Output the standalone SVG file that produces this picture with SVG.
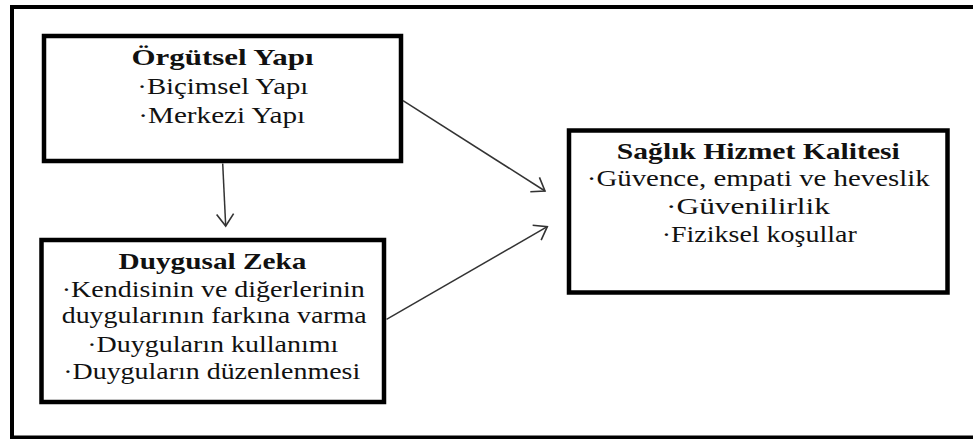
<svg xmlns="http://www.w3.org/2000/svg" width="973" height="439" viewBox="0 0 973 439">
<style>
.frame{fill:none;stroke:#000;stroke-width:4}
.box{fill:#fff;stroke:#000;stroke-width:4.5}
.t{font-family:"Liberation Serif","Times New Roman",serif;font-size:22.5px;fill:#111;text-anchor:middle}
.b{font-weight:bold;font-size:24px}
.conn line{stroke:#333;stroke-width:1.5;fill:none}
</style>
<defs>
<marker id="arr" markerUnits="userSpaceOnUse" markerWidth="20" markerHeight="20" viewBox="-14 -10 16 20" refX="0" refY="0" orient="auto">
<path d="M-12,-8.5 L0,0 L-12,8.5" fill="none" stroke="#333" stroke-width="1.6"/>
</marker>
</defs>
<rect width="973" height="439" fill="#fff"/>
<rect class="frame" x="12" y="7" width="975" height="430.5"/>
<g id="orgutsel">
<rect class="box" x="44" y="36" width="357" height="125"/>
<text class="t b" transform="translate(222.5,65) scale(1.25,1)" textLength="145.6" lengthAdjust="spacingAndGlyphs">Örgütsel Yapı</text>
<text class="t" transform="translate(222.8,94) scale(1.25,1)" textLength="136.8" lengthAdjust="spacingAndGlyphs">·Biçimsel Yapı</text>
<text class="t" transform="translate(221.7,122.5) scale(1.25,1)" textLength="133.6" lengthAdjust="spacingAndGlyphs">·Merkezi Yapı</text>
</g>
<g id="duygusal">
<rect class="box" x="41.5" y="240" width="342.5" height="162"/>
<text class="t b" transform="translate(212.5,269) scale(1.25,1)" textLength="150.4" lengthAdjust="spacingAndGlyphs">Duygusal Zeka</text>
<text class="t" transform="translate(213.3,296.5) scale(1.25,1)" textLength="242.4" lengthAdjust="spacingAndGlyphs">·Kendisinin ve diğerlerinin</text>
<text class="t" transform="translate(214.2,322.5) scale(1.25,1)" textLength="244" lengthAdjust="spacingAndGlyphs">duygularının farkına varma</text>
<text class="t" transform="translate(212.8,351.5) scale(1.25,1)" textLength="200.8" lengthAdjust="spacingAndGlyphs">·Duyguların kullanımı</text>
<text class="t" transform="translate(211.7,379) scale(1.25,1)" textLength="237.6" lengthAdjust="spacingAndGlyphs">·Duyguların düzenlenmesi</text>
</g>
<g id="saglik">
<rect class="box" x="569" y="130.5" width="378.5" height="162"/>
<text class="t b" transform="translate(758.3,159) scale(1.25,1)" textLength="226.4" lengthAdjust="spacingAndGlyphs">Sağlık Hizmet Kalitesi</text>
<text class="t" transform="translate(758.3,186) scale(1.25,1)" textLength="274.4" lengthAdjust="spacingAndGlyphs">·Güvence, empati ve heveslik</text>
<text class="t" transform="translate(748,214) scale(1.25,1)" textLength="131.2" lengthAdjust="spacingAndGlyphs">·Güvenilirlik</text>
<text class="t" transform="translate(759.2,241.5) scale(1.25,1)" textLength="156" lengthAdjust="spacingAndGlyphs">·Fiziksel koşullar</text>
</g>
<g id="connectors" class="conn">
<line x1="222.7" y1="163.5" x2="225.7" y2="226" marker-end="url(#arr)"/>
<line x1="403" y1="100.7" x2="545" y2="191" marker-end="url(#arr)"/>
<line x1="386.5" y1="319.3" x2="547.3" y2="226.7" marker-end="url(#arr)"/>
</g>
</svg>
